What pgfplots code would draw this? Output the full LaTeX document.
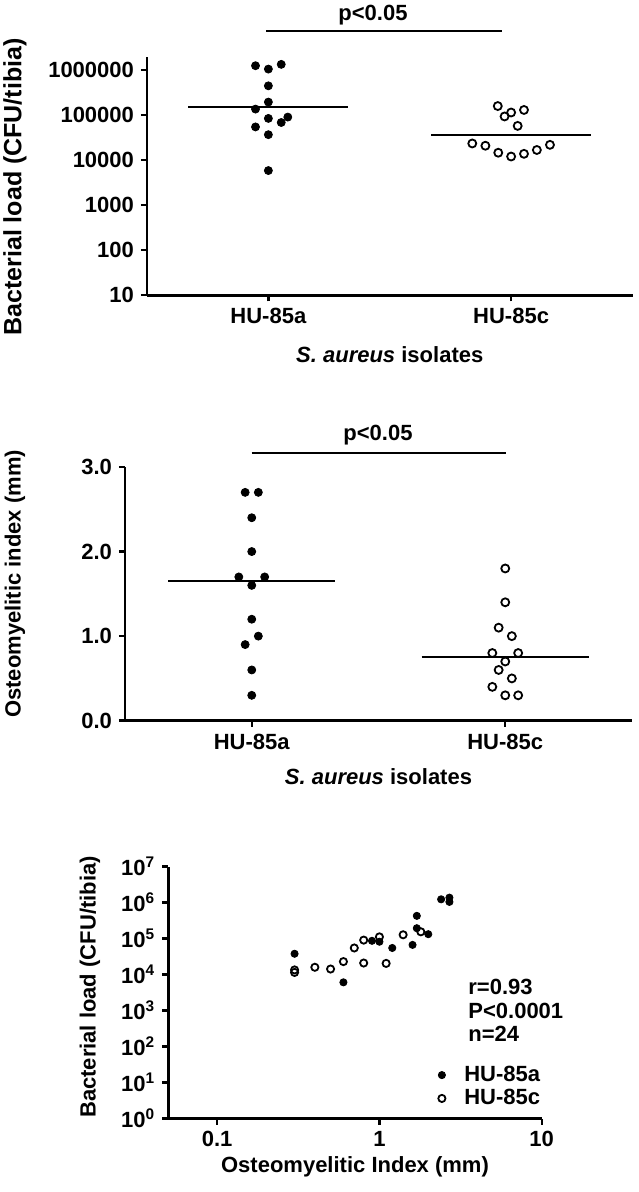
\documentclass[border=0pt]{standalone}
\usepackage{fontspec}
\setmainfont{Liberation Sans}
\usepackage{pgfplots}
\pgfplotsset{compat=1.18}
\newcommand{\ff}{\fontsize{11}{13}\selectfont\bfseries}
\pgfplotsset{
  gp/.style={
    scale only axis,
    axis lines=left,
    axis line style={-, line width=1.4pt},
    tick style={line width=1.2pt, black},
    major tick length=3pt,
    tick align=outside,
    tick label style={font=\ff},
    label style={font=\ff},
    /pgf/number format/assume math mode=true,
    clip=false,
  },
  fm/.style={only marks, mark=*, mark size=2pt, black},
  om/.style={only marks, mark=o, mark size=2pt, black, mark options={line width=0.9pt, fill=white}},
}
\begin{document}
\begin{tikzpicture}
\useasboundingbox (0,0) rectangle (319pt,596pt);
% ---------------- top panel ----------------
\begin{axis}[gp, at={(73.5pt,448.35pt)}, anchor=south west,
  width=242.75pt, height=119.3pt,
  xmin=0.5, xmax=2.5, ymode=log, ymin=10, ymax=2e6,
  xtick={1,2}, xticklabels={HU-85a,HU-85c},
  ytick={10,100,1000,10000,100000,1000000},
  yticklabels={10,100,1000,10000,100000,1000000},
  yminorticks=false,
  xlabel={\textit{S. aureus} isolates},
  ylabel={Bacterial load (CFU/tibia)},
  xlabel style={at={(axis description cs:0.5,-0.25)}, anchor=center},
  ylabel style={at={(axis description cs:-0.272,0.454)}, anchor=center, font=\fontsize{12.5}{14}\selectfont\bfseries},
]
\addplot[fm] coordinates {(0.947,1.26e6) (1,1.06e6) (1.053,1.35e6) (1,4.5e5) (1,1.96e5) (0.947,1.37e5) (1,8.5e4) (1.08,9.1e4) (1.053,6.9e4) (0.947,5.5e4) (1,3.7e4) (1,5.9e3)};
\addplot[om] coordinates {(1.945,1.6e5) (2,1.15e5) (1.973,9.4e4) (2.053,1.31e5) (2.027,5.8e4) (1.84,2.36e4) (1.894,2.1e4) (1.947,1.47e4) (2,1.21e4) (2.053,1.39e4) (2.106,1.69e4) (2.16,2.2e4)};
\addplot[black, line width=1pt] coordinates {(0.67,1.55e5) (1.33,1.55e5)};
\addplot[black, line width=1pt] coordinates {(1.67,3.7e4) (2.33,3.7e4)};
\end{axis}
\draw[line width=1pt] (133pt,580.5pt) -- (251pt,580.5pt);
\node[font=\ff] at (186.5pt,588.5pt) {p<0.05};
% ---------------- middle panel ----------------
\begin{axis}[gp, at={(62.5pt,235.65pt)}, anchor=south west,
  width=253.5pt, height=126.85pt,
  xmin=0.5, xmax=2.5, ymin=0, ymax=3,
  xtick={1,2}, xticklabels={HU-85a,HU-85c},
  ytick={0,1,2,3},
  yticklabel style={/pgf/number format/.cd, fixed, fixed zerofill, precision=1},
  xlabel={\textit{S. aureus} isolates},
  ylabel={Osteomyelitic index (mm)},
  xlabel style={at={(axis description cs:0.5,-0.222)}, anchor=center},
  ylabel style={at={(axis description cs:-0.217,0.539)}, anchor=center},
]
\addplot[fm] coordinates {(0.974,2.7) (1.026,2.7) (1,2.4) (1,2.0) (0.949,1.7) (1.051,1.7) (1,1.6) (1,1.2) (1.026,1.0) (0.974,0.9) (1,0.6) (1,0.3)};
\addplot[om] coordinates {(2,1.8) (2,1.4) (1.974,1.1) (2.026,1.0) (1.949,0.8) (2.051,0.8) (2,0.7) (1.974,0.6) (2.026,0.5) (1.949,0.4) (2,0.3) (2.051,0.3)};
\addplot[black, line width=1pt] coordinates {(0.67,1.65) (1.33,1.65)};
\addplot[black, line width=1pt] coordinates {(1.67,0.75) (2.33,0.75)};
\end{axis}
\draw[line width=1pt] (125.85pt,369.65pt) -- (252.85pt,369.65pt);
\node[font=\ff] at (189pt,378.5pt) {p<0.05};
% ---------------- bottom panel ----------------
\begin{axis}[gp, at={(84.15pt,36.75pt)}, anchor=south west,
  width=186.7pt, height=125.9pt,
  xmode=log, ymode=log, xmin=0.05, xmax=10, ymin=1, ymax=1e7,
  xtick={0.1,1,10}, xticklabels={0.1,1,10},
  ytick={1,10,100,1000,10000,100000,1000000,10000000},
  yticklabels={10\textsuperscript{0},10\textsuperscript{1},10\textsuperscript{2},10\textsuperscript{3},10\textsuperscript{4},10\textsuperscript{5},10\textsuperscript{6},10\textsuperscript{7}},
  xminorticks=false, yminorticks=false,
  xlabel={Osteomyelitic Index (mm)},
  ylabel={Bacterial load (CFU/tibia)},
  xlabel style={at={(axis description cs:0.5,-0.191)}, anchor=center},
  ylabel style={at={(axis description cs:-0.21,0.522)}, anchor=center},
  legend image code/.code={\draw[#1] plot coordinates {(0pt,0pt)}; \path (0pt,0pt) (10pt,0pt);},
  legend style={draw=none, fill=none, at={(axis description cs:0.722,0.126)}, anchor=west, font=\ff, inner sep=0pt, row sep=0.5pt, nodes={inner sep=1pt}},
  legend cell align=left,
]
\addplot[fm, mark size=1.8pt] coordinates {(0.3,3.8e4) (0.6,6.1e3) (0.9,8.7e4) (1.0,8.2e4) (1.2,5.5e4) (1.6,6.7e4) (1.7,4.3e5) (1.7,1.95e5) (2.0,1.33e5) (2.4,1.24e6) (2.7,1.38e6) (2.7,1.05e6)};
\addlegendentry{HU-85a}
\addplot[om, mark size=1.8pt] coordinates {(0.3,1.35e4) (0.3,1.15e4) (0.4,1.6e4) (0.5,1.43e4) (0.6,2.3e4) (0.7,5.5e4) (0.8,2.1e4) (0.8,9.1e4) (1.0,1.12e5) (1.1,2.05e4) (1.4,1.28e5) (1.8,1.55e5)};
\addlegendentry{HU-85c}
\end{axis}
\node[anchor=base west, font=\ff, inner sep=0pt] at (234pt,98.5pt) {r=0.93};
\node[anchor=base west, font=\ff, inner sep=0pt] at (234pt,86.7pt) {P<0.0001};
\node[anchor=base west, font=\ff, inner sep=0pt] at (234pt,75pt) {n=24};
\end{tikzpicture}
\end{document}
